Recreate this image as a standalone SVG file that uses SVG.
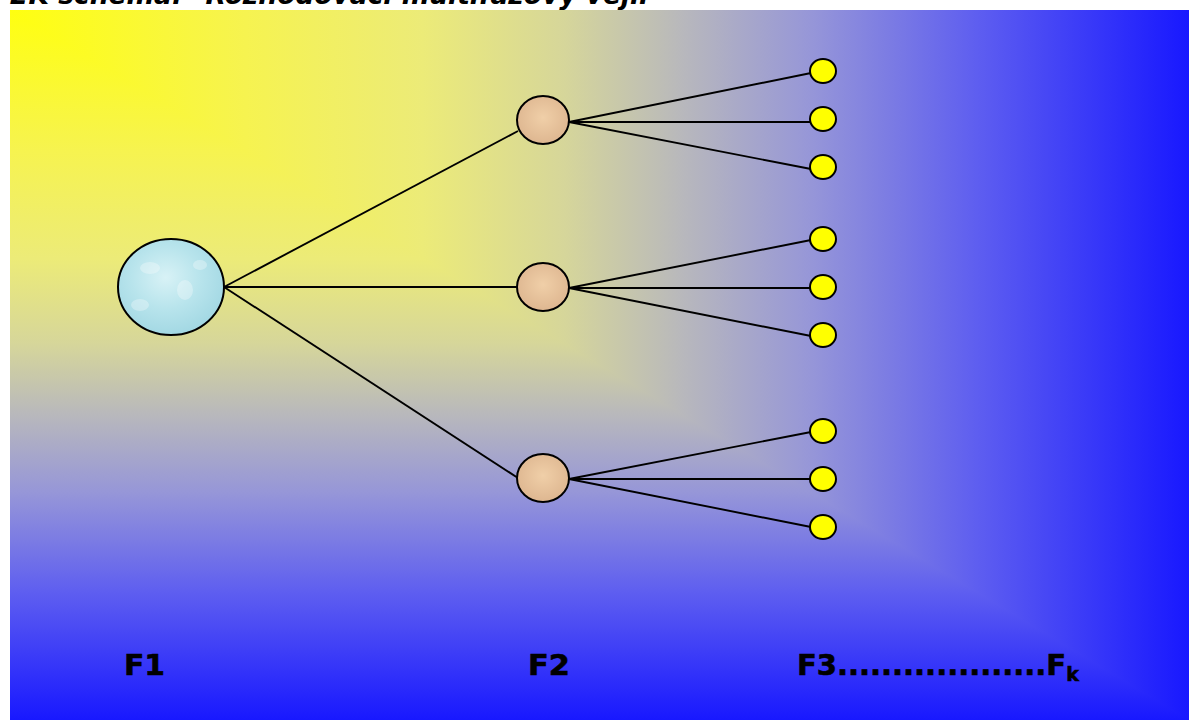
<svg xmlns="http://www.w3.org/2000/svg" width="1189" height="722" viewBox="0 0 1189 722">
  <style>
    .lbl { font-family: "DejaVu Sans", Verdana, sans-serif; font-weight: bold; font-size: 29px; fill: #000; stroke: #000; stroke-width: 0.6; }
    .title { font-family: "DejaVu Sans", Verdana, sans-serif; font-weight: bold; font-style: italic; font-size: 26px; fill: #000; }
    .edge { stroke: #000; stroke-width: 1.9; fill: none; }
    .leaf { fill: #ffff00; stroke: #000; stroke-width: 2; }
    .mid { fill: url(#tan); stroke: #000; stroke-width: 2; }
  </style>
  <defs>
    <linearGradient id="gh" gradientUnits="userSpaceOnUse" x1="10" y1="0" x2="1189" y2="0">
      <stop offset="0" stop-color="#ffff10"/>
      <stop offset="0.2" stop-color="#f6f350"/>
      <stop offset="0.35" stop-color="#eceb78"/>
      <stop offset="0.47" stop-color="#d6d69a"/>
      <stop offset="0.57" stop-color="#b8b8bc"/>
      <stop offset="0.68" stop-color="#9696d8"/>
      <stop offset="0.82" stop-color="#5e5ef0"/>
      <stop offset="1" stop-color="#1818ff"/>
    </linearGradient>
    <linearGradient id="gv" gradientUnits="userSpaceOnUse" x1="0" y1="10" x2="0" y2="720">
      <stop offset="0" stop-color="#ffff10"/>
      <stop offset="0.2" stop-color="#f6f350"/>
      <stop offset="0.35" stop-color="#eceb78"/>
      <stop offset="0.47" stop-color="#d6d69a"/>
      <stop offset="0.57" stop-color="#b8b8bc"/>
      <stop offset="0.68" stop-color="#9696d8"/>
      <stop offset="0.82" stop-color="#5e5ef0"/>
      <stop offset="1" stop-color="#1818ff"/>
    </linearGradient>
    <radialGradient id="water" cx="0.45" cy="0.4" r="0.65">
      <stop offset="0" stop-color="#d8f2f6"/>
      <stop offset="0.5" stop-color="#b8e4ec"/>
      <stop offset="1" stop-color="#9fd6e2"/>
    </radialGradient>
    <radialGradient id="tan" cx="0.5" cy="0.45" r="0.6">
      <stop offset="0" stop-color="#f0cfa8"/>
      <stop offset="1" stop-color="#dcb48e"/>
    </radialGradient>
  </defs>

  <rect x="0" y="0" width="1189" height="722" fill="#ffffff"/>
  <g id="background">
    <rect x="10" y="10" width="1179" height="710" fill="url(#gv)"/>
    <polygon points="10,10 1189,10 1189,720" fill="url(#gh)"/>
  </g>

  <text class="title" x="10" y="4" textLength="656" lengthAdjust="spacingAndGlyphs">2K schéma: "Rozhodovací multifázový vějíř"</text>

  <g id="connectors">
    <line class="edge" x1="224" y1="287" x2="518" y2="131"/>
    <line class="edge" x1="224" y1="287" x2="517" y2="287"/>
    <line class="edge" x1="224" y1="287" x2="518" y2="478"/>
    <line class="edge" x1="569" y1="122" x2="811" y2="73"/>
    <line class="edge" x1="569" y1="122" x2="810" y2="122"/>
    <line class="edge" x1="569" y1="122" x2="811" y2="169"/>
    <line class="edge" x1="569" y1="288" x2="811" y2="240"/>
    <line class="edge" x1="569" y1="288" x2="810" y2="288"/>
    <line class="edge" x1="569" y1="288" x2="811" y2="336"/>
    <line class="edge" x1="569" y1="479" x2="811" y2="432"/>
    <line class="edge" x1="569" y1="479" x2="810" y2="479"/>
    <line class="edge" x1="569" y1="479" x2="811" y2="527"/>
  </g>

  <g id="root">
    <ellipse cx="171" cy="287" rx="53" ry="48" fill="url(#water)" stroke="#000" stroke-width="2"/>
    <g fill="#ffffff" opacity="0.3">
      <ellipse cx="150" cy="268" rx="10" ry="6"/>
      <ellipse cx="185" cy="290" rx="8" ry="10"/>
      <ellipse cx="200" cy="265" rx="7" ry="5"/>
      <ellipse cx="140" cy="305" rx="9" ry="6"/>
    </g>
  </g>

  <g id="f2-1"><ellipse class="mid" cx="543" cy="120" rx="26" ry="24"/></g>
  <g id="f2-2"><ellipse class="mid" cx="543" cy="287" rx="26" ry="24"/></g>
  <g id="f2-3"><ellipse class="mid" cx="543" cy="478" rx="26" ry="24"/></g>

  <g id="leaf-1"><ellipse class="leaf" cx="823" cy="71" rx="13" ry="12"/></g>
  <g id="leaf-2"><ellipse class="leaf" cx="823" cy="119" rx="13" ry="12"/></g>
  <g id="leaf-3"><ellipse class="leaf" cx="823" cy="167" rx="13" ry="12"/></g>
  <g id="leaf-4"><ellipse class="leaf" cx="823" cy="239" rx="13" ry="12"/></g>
  <g id="leaf-5"><ellipse class="leaf" cx="823" cy="287" rx="13" ry="12"/></g>
  <g id="leaf-6"><ellipse class="leaf" cx="823" cy="335" rx="13" ry="12"/></g>
  <g id="leaf-7"><ellipse class="leaf" cx="823" cy="431" rx="13" ry="12"/></g>
  <g id="leaf-8"><ellipse class="leaf" cx="823" cy="479" rx="13" ry="12"/></g>
  <g id="leaf-9"><ellipse class="leaf" cx="823" cy="527" rx="13" ry="12"/></g>

  <g id="labels">
    <text class="lbl" x="124" y="675" textLength="41" lengthAdjust="spacingAndGlyphs">F1</text>
    <text class="lbl" x="528" y="675" textLength="42" lengthAdjust="spacingAndGlyphs">F2</text>
    <text class="lbl" x="797" y="675">F3...................F<tspan font-size="19" dy="6">k</tspan></text>
  </g>
</svg>
